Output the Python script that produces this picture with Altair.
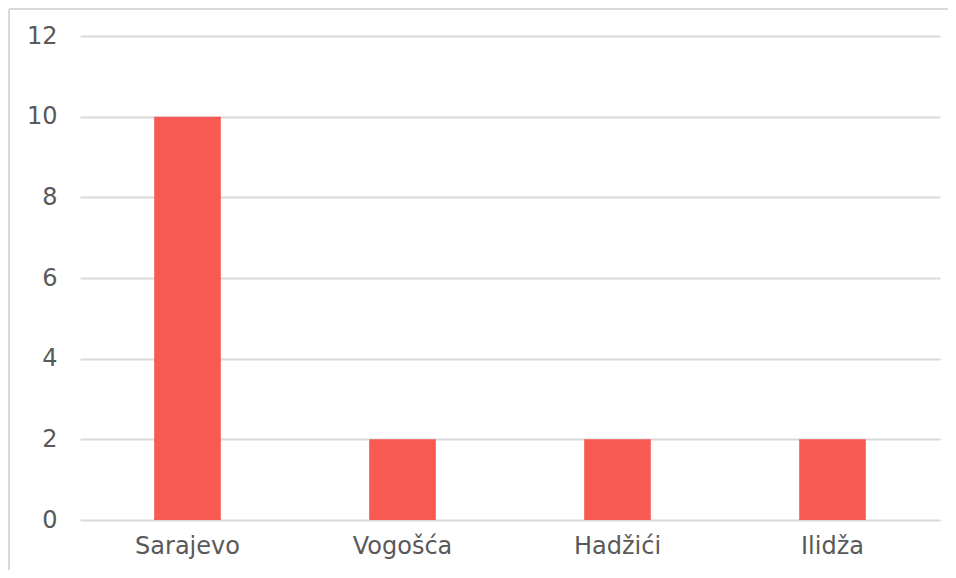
import altair as alt
import pandas as pd

categories = ["Sarajevo", "Vogošća", "Hadžići", "Ilidža"]
values = [10, 2, 2, 2]

df = pd.DataFrame({"mjesto": categories, "broj": values})
one = pd.DataFrame({"k": [0]})

FONT = "DejaVu Sans"
TXT = "#595959"
BORDER = "#D9D9D9"

bars = alt.Chart(df).mark_bar(color="#F75A53").encode(
    x=alt.X("mjesto:N", sort=categories, title=None,
            scale=alt.Scale(paddingInner=0.69, paddingOuter=0.345),
            axis=alt.Axis(labelAngle=0, labelFontSize=24, labelColor=TXT, labelFont=FONT,
                          domain=False, ticks=False, labelPadding=14)),
    y=alt.Y("broj:Q", title=None,
            scale=alt.Scale(domain=[0, 12]),
            axis=alt.Axis(values=[0, 2, 4, 6, 8, 10, 12], labelFontSize=24, labelColor=TXT,
                          labelFont=FONT, domain=False, ticks=False, labelPadding=23,
                          gridColor=BORDER, gridWidth=2)),
)

top_line = alt.Chart(one).mark_rule(stroke=BORDER, strokeWidth=2).encode(
    x=alt.value(-71), x2=alt.value(868), y=alt.value(-27)
)
left_line = alt.Chart(one).mark_rule(stroke=BORDER, strokeWidth=2).encode(
    x=alt.value(-71), y=alt.value(-27), y2=alt.value(560)
)

chart = alt.layer(bars, top_line, left_line).properties(
    width=860, height=484,
    autosize=alt.AutoSizeParams(type="none"),
    padding={"left": 72, "top": 28, "right": 8, "bottom": 50},
).configure_view(stroke=None, strokeWidth=0)

chart.save("out.html", embed_options={"renderer": "svg", "actions": False})
